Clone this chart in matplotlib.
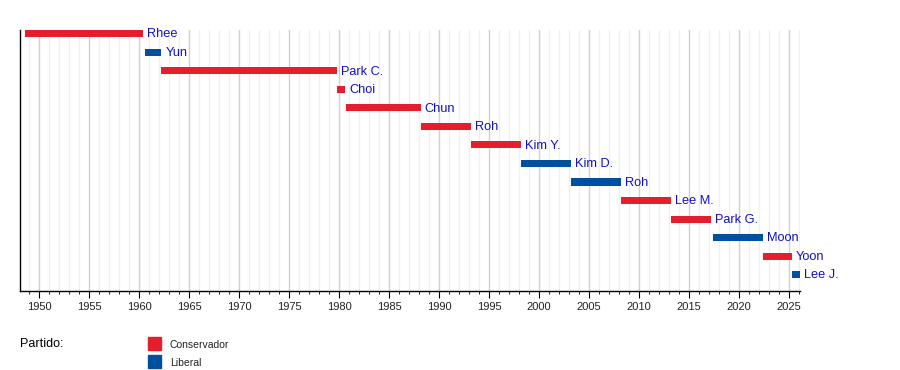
import matplotlib.pyplot as plt
from matplotlib.patches import Rectangle
from matplotlib.ticker import MultipleLocator

names = ["Rhee", "Yun", "Park C.", "Choi", "Chun", "Roh", "Kim Y.", "Kim D.",
         "Roh", "Lee M.", "Park G.", "Moon", "Yoon", "Lee J."]
start = [1948.6, 1960.6, 1962.2, 1979.8, 1980.65, 1988.15, 1993.15, 1998.15,
         2003.15, 2008.15, 2013.15, 2017.35, 2022.35, 2025.3]
end = [1960.35, 1962.2, 1979.8, 1980.6, 1988.15, 1993.15, 1998.15, 2003.15,
       2008.15, 2013.15, 2017.2, 2022.35, 2025.3, 2026.1]
party = ["Conservador", "Liberal", "Conservador", "Conservador", "Conservador",
         "Conservador", "Conservador", "Liberal", "Liberal", "Conservador",
         "Conservador", "Liberal", "Conservador", "Liberal"]

colors = {"Conservador": "#e41e2c", "Liberal": "#0050a0"}

fig = plt.figure(figsize=(9, 3.7), dpi=100)
ax = fig.add_axes([20/900, 79/370, 780/900, 261/370])

rows = list(range(len(names)))
ax.barh(rows, [e - s for s, e in zip(start, end)], left=start, height=0.38,
        color=[colors[p] for p in party], zorder=3)
for r, e, n in zip(rows, end, names):
    ax.text(e + 0.4, r + 0.04, n, color="#1010c8", fontsize=9.2, va="center",
            ha="left", family="Liberation Sans", zorder=4, clip_on=False)

ax.set_xlim(1948.05, 2026.1)
ax.set_ylim(13.88, -0.2)
ax.xaxis.set_major_locator(MultipleLocator(5))
ax.xaxis.set_minor_locator(MultipleLocator(1))
ax.grid(which="major", axis="x", color="#d0d0d0", linewidth=1, zorder=0)
ax.grid(which="minor", axis="x", color="#f0f0f0", linewidth=1, zorder=0)
ax.set_yticks([])
for s in ["top", "right"]:
    ax.spines[s].set_visible(False)
ax.spines["left"].set_linewidth(1)
ax.spines["bottom"].set_linewidth(1)
ax.tick_params(axis="x", which="major", length=5, labelsize=8, pad=3,
               labelcolor="#222222")
ax.tick_params(axis="x", which="minor", length=2.5)
for lbl in ax.get_xticklabels():
    lbl.set_family("Liberation Sans")

fig.text(20/900, 1 - 344/370, "Partido:", fontsize=9, va="center",
         family="Liberation Sans")
leg_y = [343, 361]
for (lab, c), y in zip(colors.items(), leg_y):
    fig.patches.append(Rectangle((148/900, 1 - (y + 6.5)/370), 13/900, 13/370,
                                 color=c, transform=fig.transFigure))
    fig.text(170/900, 1 - (y + 2.5)/370, lab, fontsize=7.5, va="center",
             family="Liberation Sans", color="#222222")

fig.savefig("out.png", dpi=100)
